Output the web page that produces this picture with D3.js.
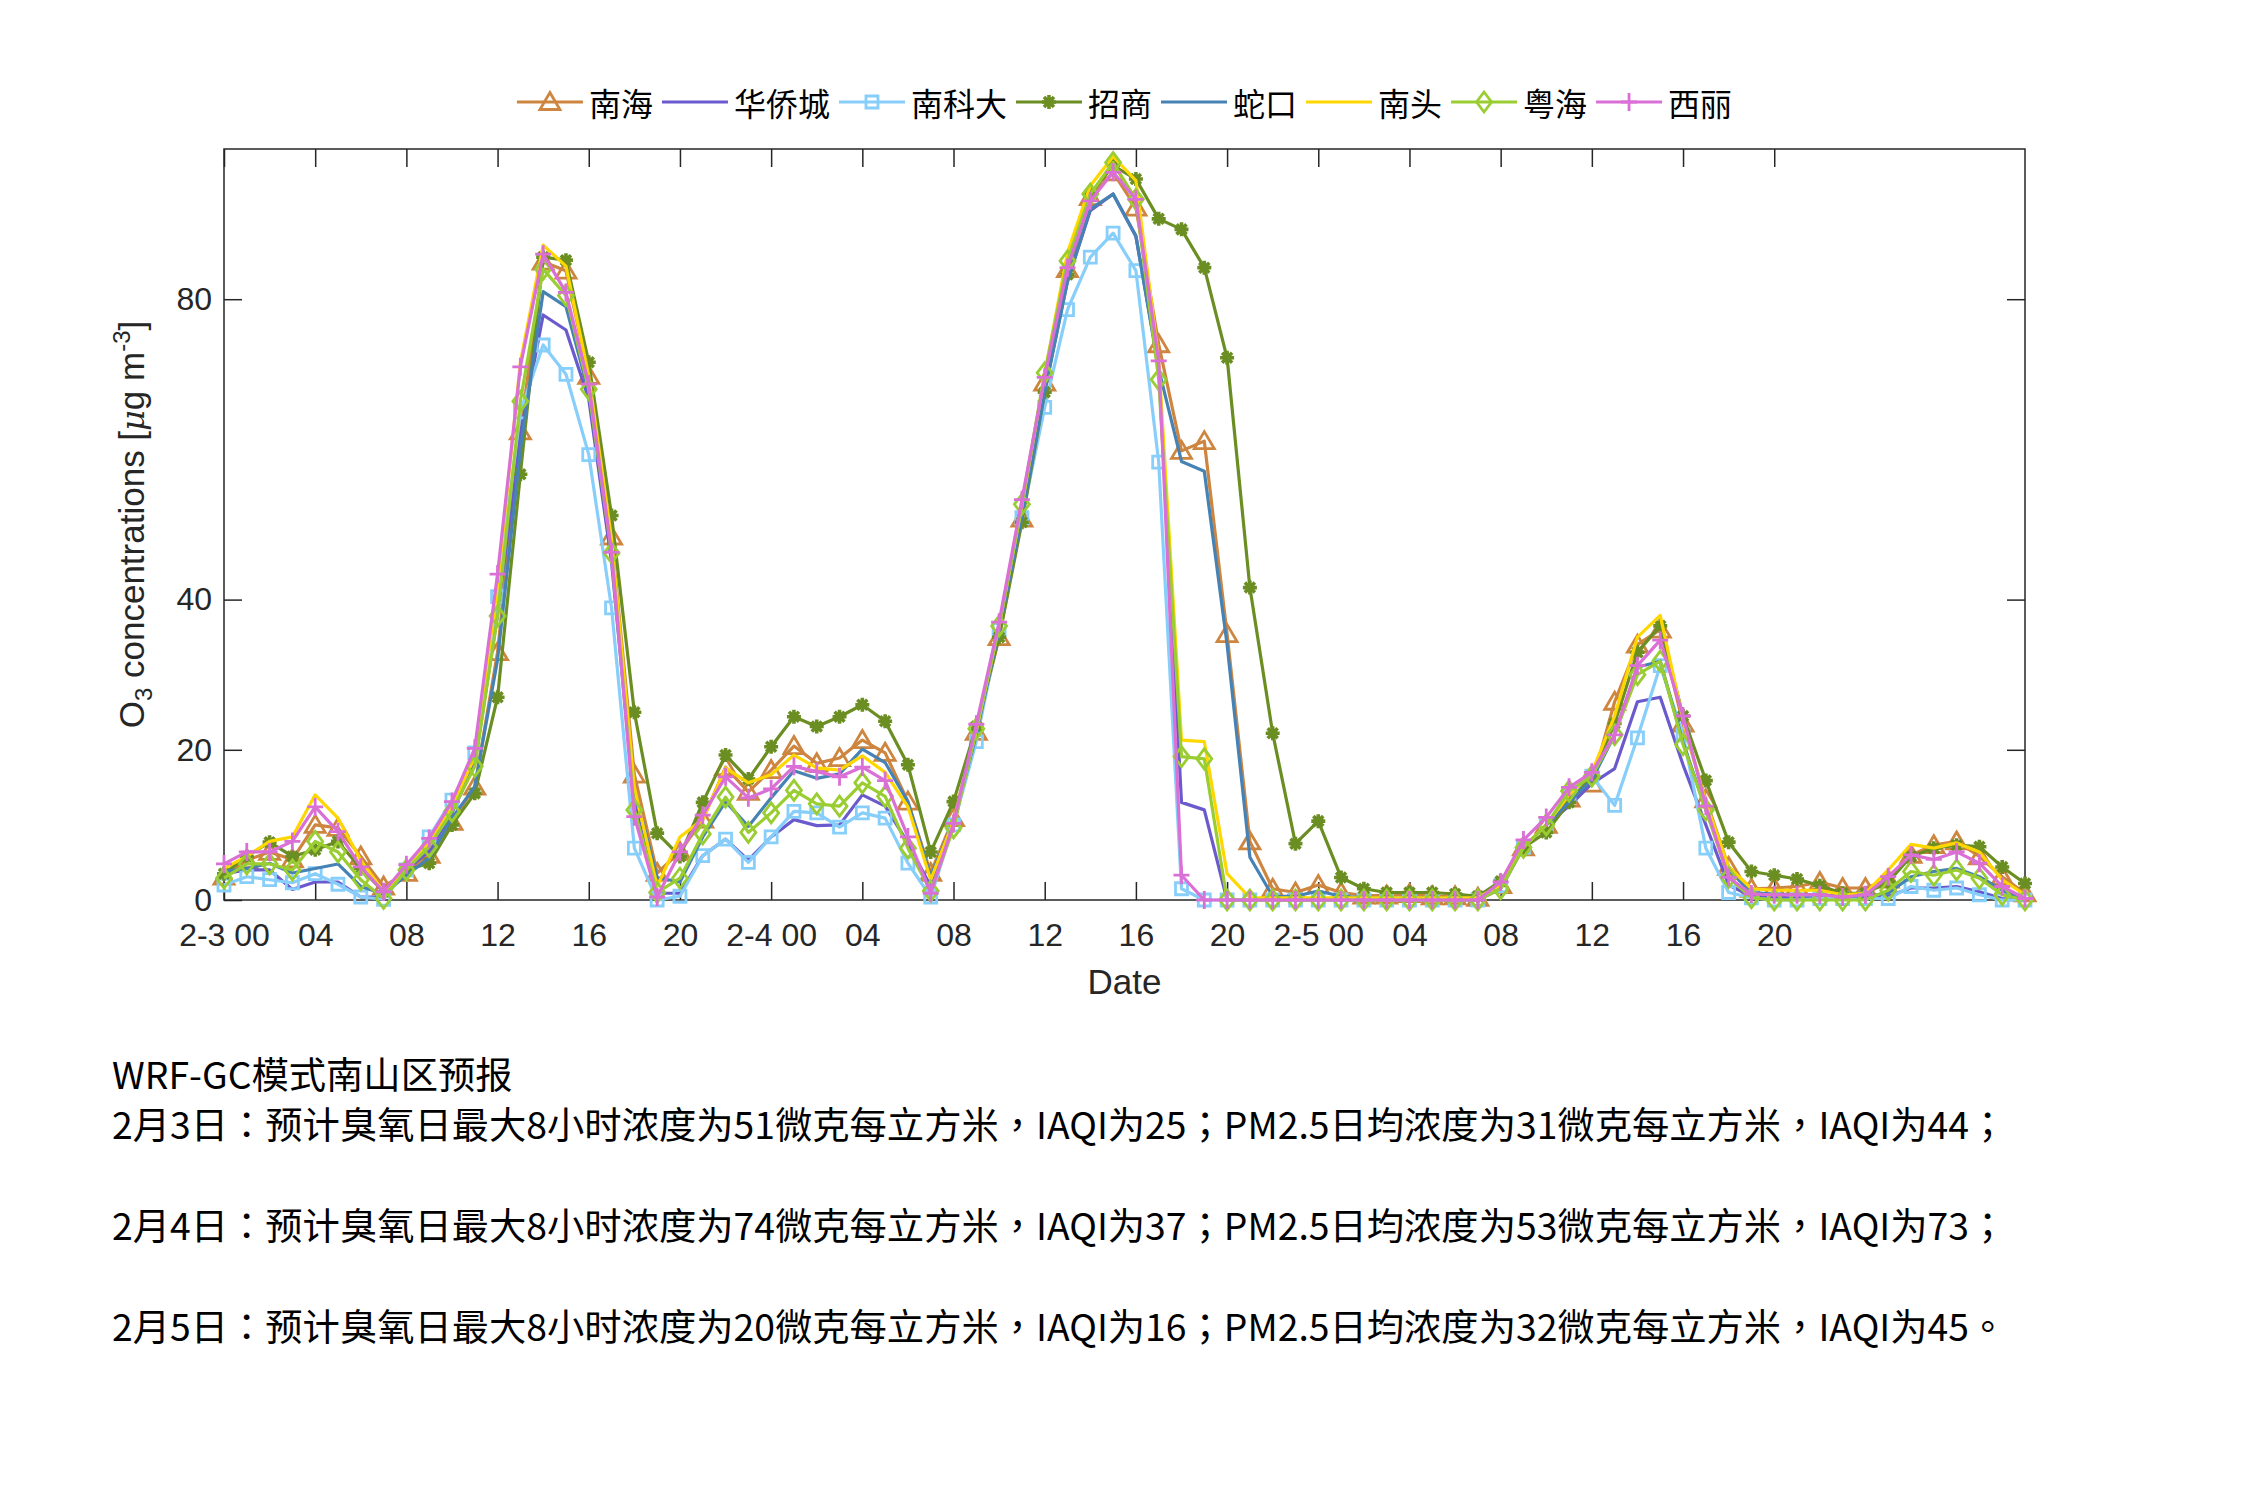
<!DOCTYPE html>
<html><head><meta charset="utf-8">
<script src="https://cdn.jsdelivr.net/npm/d3@7"></script>
<style>body{margin:0;background:#fff}svg{display:block}</style>
</head><body>
<svg id="c" width="2250" height="1500"></svg>
<script>
// ---------- data ----------
const hours = [0,1,2,3,4,5,6,7,8,9,10,11,12,13,14,15,16,17,18,19,20,21,22,23,24,25,26,27,28,29,30,31,32,33,34,35,36,37,38,39,40,41,42,43,44,45,46,47,48,49,50,51,52,53,54,55,56,57,58,59,60,61,62,63,64,65,66,67,68,69,70,71,72,73,74,75,76,77,78,79];
const stationNames = ["南海","华侨城","南科大","招商","蛇口","南头","粤海","西丽"];
const nanhai = [3.1,5.3,6.4,5.4,10.0,9.6,5.8,1.8,3.6,6.0,10.4,15.1,33,62.4,85.0,83.8,69.8,48.4,16.7,3.6,6.4,10.7,17.7,14.4,17.3,20.5,18.2,18.9,21.3,19.6,13.1,3.6,10.9,22.4,35.0,50.8,68.9,84.0,93.6,96.9,92.2,74.0,59.8,61.1,35.4,7.8,1.5,1.0,2.0,1.0,0.6,0.6,0.8,0.5,0.5,0.3,2.0,7.0,10.0,13.5,15.5,26.4,34.0,36.0,23.5,13.4,4.4,1.5,1.6,1.8,2.4,1.6,1.6,2.7,6.0,7.3,7.8,5.8,3.1,0.9];
const huaqiaocheng = [3.5,4.0,4.0,1.4,2.4,2.4,0.4,0.4,4.0,6.5,11.6,18.2,38,62,77.9,75.9,66.7,45,13,0.9,0.9,5.9,8.1,5.3,8.4,10.7,9.9,10.0,14.0,12.5,7.6,1.8,10.0,22,36,51,68,82.4,91.8,94.0,88.4,71,13.0,12.0,0,0,0,0,0,0,0,0,0,0,0,0,1.5,7,10,12.5,15.5,17.5,26.4,27,18,10,2,0.5,0.3,0.3,0.3,0.3,0.3,0.5,1.6,1.6,1.8,1.1,0.2,0];
const nankeda = [2.0,3.1,2.7,2.3,3.5,2.1,0.4,0.1,4.0,8.4,13.3,19.6,40.4,65,73.9,70.0,59.3,38.9,6.9,0,0.5,5.9,8.1,5.0,8.4,11.8,11.6,9.7,11.6,10.9,4.9,0.4,10.0,21.1,36,50.9,65.6,78.6,85.6,88.8,83.8,58.3,1.5,0,0,0,0,0,0,0,0,0,0,0,0,0,1.9,7,10,14,16.5,12.6,21.6,31.2,22,6.9,1.0,0.3,0,0,0.2,0.2,0.2,0.2,1.8,1.3,1.6,0.7,0,0];
const zhaoshang = [3.5,5.8,7.7,5.8,6.7,7.8,4.2,1.1,4.0,4.9,10.0,14.2,27,56.7,85.6,85.2,71.6,51.2,25.0,8.9,5.8,13.0,19.3,16.1,20.4,24.4,23.1,24.4,26.0,23.8,18.0,6.4,13.1,23.1,35,50.3,67.6,83.3,94.0,97.8,96.0,90.7,89.3,84.2,72.2,41.6,22.2,7.5,10.5,3.0,1.5,1.0,1.0,1.0,0.8,0.5,2.5,7.0,9.0,13.0,16.5,23.5,33.0,36.5,24.5,15.9,7.7,3.8,3.3,2.8,1.9,0.9,0.9,2.4,5.8,6.9,7.3,7.1,4.4,2.2];
const shekou = [3.8,4.2,4.9,3.6,4.2,4.8,1.8,0.8,3.3,5.6,10.9,15.1,32,60,81.0,79.0,67.6,47,14.7,3.0,2.4,8.4,13.1,9.8,13.6,17.2,16.2,16.8,20.1,18.3,13.1,3.1,10.5,22,36,51,67.6,82.4,92.0,94.0,88.4,70.7,58.4,57.1,34,5.7,0.5,0.5,1.2,0.5,0.3,0.3,0.3,0.3,0.3,0.3,2,7,10,13,16,22,31,31.8,21,12,4,1,0.8,0.7,0.7,0.5,0.5,0.9,3.1,3.8,4.2,3.1,1.3,0];
const nantou = [4.2,5.8,7.8,8.4,14.0,10.9,5.3,1.1,4.0,7.6,12.4,19.1,41.7,71.6,87.2,84.4,69.8,48,15,1.8,8.4,10.7,17.6,15.6,16.7,19.3,17.6,17.3,19.2,17.0,12.4,2.7,10.5,22.5,36.5,52.5,70,86.2,95.1,99.0,95.8,72,21.3,21.1,3.5,0.3,0.3,0.3,0.3,0.3,0.3,0.3,0.3,0.3,0.3,0.3,2,7,10,14,17,24.5,35,37.9,24,13,4.4,1.5,1.3,1.3,1.3,0.7,0.9,4.0,7.4,6.9,7.6,6.4,2.7,0.7];
const yuehai = [2.9,4.8,4.8,4.0,7.8,6.4,2.7,0.2,4.0,7.1,11.8,17.8,37.8,66.4,84.0,80.5,68.0,46.2,12.0,1.0,2.9,8.8,13.7,9.0,11.6,14.6,12.8,12.5,15.6,13.8,6.9,1.2,9.6,22.8,36.5,52.7,70.2,85.1,94.0,98.2,93.3,69.3,19.1,18.8,0,0,0,0,0,0,0,0,0,0,0,0,1.5,7,10,14.5,16.5,22,30,31.8,20.7,12,3,0.3,0,0,0,0,0,1.3,3.8,3.3,4.0,2.9,0.7,0];
const xili = [4.8,6.4,6.4,7.8,12.4,9.1,4.4,1.1,4.7,8.2,13.1,20.2,43.4,71.0,86.0,80.9,68.7,46.3,11.1,0.4,6.4,11.3,16.4,13.6,14.8,17.8,17.1,16.4,17.7,15.9,8.4,0.9,10.2,23.4,37,53.3,69.6,84.2,93.1,96.9,93.3,71.8,3.3,0,0,0,0,0,0,0,0,0,0,0,0,0,2.4,8,11,15,17,22,31.2,34.6,24.5,12.5,3,0.8,0.7,0.7,0.7,0.4,0.7,3.1,6.0,5.4,6.4,4.9,1.8,0.2];
const xTickValues = [0,4,8,12,16,20,24,28,32,36,40,44,48,52,56,60,64,68];
const xTickLabels = ["2-3 00","04","08","12","16","20","2-4 00","04","08","12","16","20","2-5 00","04","08","12","16","20"];
const yTickValues = [0,20,40,80];
const noteLines = [
  "WRF-GC模式南山区预报",
  "2月3日：预计臭氧日最大8小时浓度为51微克每立方米，IAQI为25；PM2.5日均浓度为31微克每立方米，IAQI为44；",
  "",
  "2月4日：预计臭氧日最大8小时浓度为74微克每立方米，IAQI为37；PM2.5日均浓度为53微克每立方米，IAQI为73；",
  "",
  "2月5日：预计臭氧日最大8小时浓度为20微克每立方米，IAQI为16；PM2.5日均浓度为32微克每立方米，IAQI为45。"
];

// ---------- styles ----------
const seriesValues = [nanhai, huaqiaocheng, nankeda, zhaoshang, shekou, nantou, yuehai, xili];
const colors = ["#CD853F","#6A5ACD","#87CEFA","#6B8E23","#4682B4","#FFD700","#9ACD32","#DA70D6"];
const markers = ["triangle", null, "square", "asterisk", null, null, "diamond", "plus"];

const svg = d3.select('#c');
svg.append('rect').attr('width',2250).attr('height',1500).attr('fill','#fff');
const L=224, R=2025, T=149, B=900;
const x = d3.scaleLinear().domain([0,79]).range([L,R]);
const y = d3.scaleLinear().domain([0,100]).range([B,T]);
const axisColor = '#262626';
const latin = "'Liberation Sans', Arial, sans-serif";
const cjk = "'Noto Sans CJK TC', 'Noto Sans CJK SC', sans-serif";

// axes
function styleAxis(g){
  g.select('.domain').remove();
  g.selectAll('.tick line').attr('stroke',axisColor).attr('stroke-width',1.5);
  g.selectAll('.tick text').attr('fill',axisColor).attr('font-family',latin).attr('font-size',32);
}
svg.append('g').attr('transform',`translate(0,${B})`)
  .call(d3.axisBottom(x).tickValues(xTickValues).tickFormat((d,i)=>xTickLabels[i]).tickSize(-18).tickPadding(23))
  .call(styleAxis);
svg.append('g').attr('transform',`translate(0,${T})`)
  .call(d3.axisTop(x).tickValues(xTickValues).tickFormat('').tickSize(-18))
  .call(styleAxis);
svg.append('g').attr('transform',`translate(${L},0)`)
  .call(d3.axisLeft(y).tickValues(yTickValues).tickSize(-18).tickPadding(12))
  .call(styleAxis);
svg.append('g').attr('transform',`translate(${R},0)`)
  .call(d3.axisRight(y).tickValues(yTickValues).tickFormat('').tickSize(-18))
  .call(styleAxis);
svg.append('rect').attr('x',L).attr('y',T).attr('width',R-L).attr('height',B-T)
  .attr('fill','none').attr('stroke',axisColor).attr('stroke-width',1.5);

// marker path generators
function markerPath(type){
  switch(type){
    case 'triangle': return 'M0,-9.5L10,7.5L-10,7.5Z';
    case 'square': return 'M-6,-6H6V6H-6Z';
    case 'diamond': return 'M0,-10L7.5,0L0,10L-7.5,0Z';
    case 'plus': return 'M-8,0H8M0,-9V9';
    case 'asterisk': return 'M-7,0H7M0,-7V7M-5,-5L5,5M-5,5L5,-5';
  }
  return '';
}
function markerWidth(type){ return type==='asterisk'?3.6:2.8; }

// lines
const line = d3.line().x((d,i)=>x(hours[i])).y(d=>y(d));
seriesValues.forEach((vals,k)=>{
  const g = svg.append('g');
  g.append('path').attr('d',line(vals)).attr('fill','none')
    .attr('stroke',colors[k]).attr('stroke-width',3.2).attr('stroke-linejoin','round');
  if(markers[k]){
    g.selectAll('path.m').data(vals).enter().append('path').attr('class','m')
      .attr('transform',(d,i)=>`translate(${x(hours[i])},${y(d)})`)
      .attr('d',markerPath(markers[k])).attr('fill','none')
      .attr('stroke',colors[k]).attr('stroke-width',markerWidth(markers[k]));
  }
});

// axis labels
svg.append('text').attr('x',(L+R)/2).attr('y',994).attr('text-anchor','middle')
  .attr('font-family',latin).attr('font-size',35).attr('fill',axisColor).text('Date');
const yl = svg.append('text').attr('transform',`translate(144,${(T+B)/2}) rotate(-90)`)
  .attr('text-anchor','middle').attr('font-family',latin).attr('font-size',35).attr('fill',axisColor);
yl.append('tspan').text('O');
yl.append('tspan').attr('font-size',24).attr('dy',8).text('3');
yl.append('tspan').attr('dy',-8).text(' concentrations [');
yl.append('tspan').attr('font-style','italic').attr('font-family',"'DejaVu Serif', serif").attr('font-size',32).text('μ');
yl.append('tspan').text('g m');
yl.append('tspan').attr('font-size',24).attr('dy',-14).text('-3');
yl.append('tspan').attr('dy',14).text(']');

// legend
const lg = svg.append('g');
let cx = 0;
stationNames.forEach((name,k)=>{
  const it = lg.append('g').attr('transform',`translate(${cx},0)`);
  it.append('line').attr('x1',0).attr('x2',66).attr('y1',0).attr('y2',0)
    .attr('stroke',colors[k]).attr('stroke-width',3.2);
  if(markers[k]) it.append('path').attr('transform','translate(33,0)').attr('d',markerPath(markers[k]))
    .attr('fill','none').attr('stroke',colors[k]).attr('stroke-width',markerWidth(markers[k]));
  const t = it.append('text').attr('x',72).attr('y',0).attr('dominant-baseline','central')
    .attr('font-family',cjk).attr('font-size',32).attr('fill','#000').text(name);
  const w = t.node().getComputedTextLength();
  cx += 72 + w + 9;
});
const totalW = cx - 9;
lg.attr('transform',`translate(${(L+R)/2 - totalW/2},102)`);

// notes
noteLines.forEach((s,i)=>{
  if(!s) return;
  svg.append('text').attr('x',112).attr('y',1073 + i*50.4).attr('dominant-baseline','central')
    .attr('font-family',cjk).attr('font-size',37.3).attr('fill','#000').text(s);
});
</script>
</body></html>
